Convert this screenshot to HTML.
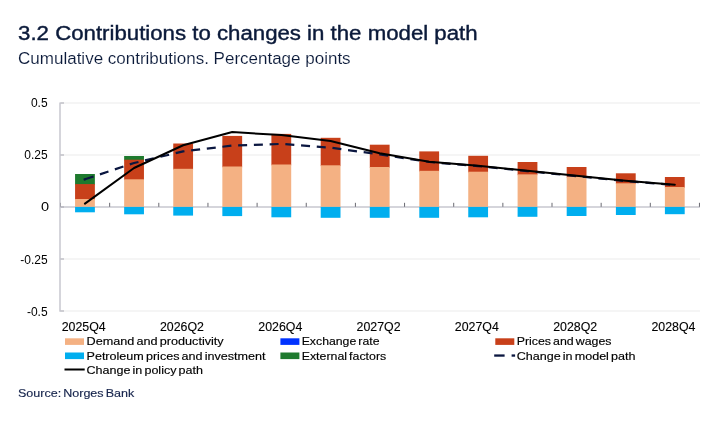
<!DOCTYPE html>
<html lang="en"><head><meta charset="utf-8"><title>3.2 Contributions to changes in the model path</title>
<style>html,body{margin:0;padding:0;background:#fff}body{width:722px;height:426px;overflow:hidden}svg{display:block;will-change:transform}text{font-family:"Liberation Sans",sans-serif}</style>
</head><body>
<svg width="722" height="426" viewBox="0 0 722 426">
<rect width="722" height="426" fill="#fff"/>
<text x="18.1" y="39.9" font-size="20" fill="#0b1a3a" stroke="#0b1a3a" stroke-width="0.4" textLength="459.5" lengthAdjust="spacingAndGlyphs">3.2 Contributions to changes in the model path</text>
<text x="18.1" y="63.8" font-size="16" fill="#0b1a3a" stroke="#fff" stroke-width="0.12" textLength="332.5" lengthAdjust="spacingAndGlyphs">Cumulative contributions. Percentage points</text>
<rect x="60.0" y="102.5" width="640.0" height="1" fill="#ececec"/>
<rect x="60.0" y="154.5" width="640.0" height="1" fill="#ececec"/>
<rect x="60.0" y="258.5" width="640.0" height="1" fill="#ececec"/>
<rect x="60.0" y="310.5" width="640.0" height="1" fill="#ececec"/>
<rect x="60.0" y="206.25" width="640.0" height="1.5" fill="#c8c8d0"/>
<rect x="75.07" y="174" width="19.8" height="10.90" fill="#1e7a2e"/>
<rect x="75.07" y="184.1" width="19.8" height="15.70" fill="#c8401a"/>
<rect x="75.07" y="199" width="19.8" height="7.90" fill="#f4b183"/>
<rect x="75.07" y="206.9" width="19.8" height="5.40" fill="#00aeef"/>
<rect x="124.15" y="156" width="19.8" height="4.50" fill="#1e7a2e"/>
<rect x="124.15" y="159.7" width="19.8" height="20.40" fill="#c8401a"/>
<rect x="124.15" y="179.3" width="19.8" height="27.60" fill="#f4b183"/>
<rect x="124.15" y="206.9" width="19.8" height="7.40" fill="#00aeef"/>
<rect x="173.25" y="143.5" width="19.8" height="26.10" fill="#c8401a"/>
<rect x="173.25" y="168.8" width="19.8" height="38.10" fill="#f4b183"/>
<rect x="173.25" y="206.9" width="19.8" height="8.70" fill="#00aeef"/>
<rect x="222.35" y="135.9" width="19.8" height="31.40" fill="#c8401a"/>
<rect x="222.35" y="166.5" width="19.8" height="40.40" fill="#f4b183"/>
<rect x="222.35" y="206.9" width="19.8" height="9.20" fill="#00aeef"/>
<rect x="271.40" y="133.9" width="19.8" height="31.40" fill="#c8401a"/>
<rect x="271.40" y="164.5" width="19.8" height="42.40" fill="#f4b183"/>
<rect x="271.40" y="206.9" width="19.8" height="10.40" fill="#00aeef"/>
<rect x="320.70" y="137.8" width="19.8" height="28.30" fill="#c8401a"/>
<rect x="320.70" y="165.3" width="19.8" height="41.60" fill="#f4b183"/>
<rect x="320.70" y="206.9" width="19.8" height="10.90" fill="#00aeef"/>
<rect x="369.80" y="144.7" width="19.8" height="23.10" fill="#c8401a"/>
<rect x="369.80" y="167" width="19.8" height="39.90" fill="#f4b183"/>
<rect x="369.80" y="206.9" width="19.8" height="10.90" fill="#00aeef"/>
<rect x="419.30" y="151.4" width="19.8" height="20.20" fill="#c8401a"/>
<rect x="419.30" y="170.8" width="19.8" height="36.10" fill="#f4b183"/>
<rect x="419.30" y="206.9" width="19.8" height="10.90" fill="#00aeef"/>
<rect x="468.25" y="155.8" width="19.8" height="16.70" fill="#c8401a"/>
<rect x="468.25" y="171.7" width="19.8" height="35.20" fill="#f4b183"/>
<rect x="468.25" y="206.9" width="19.8" height="10.40" fill="#00aeef"/>
<rect x="517.60" y="162" width="19.8" height="13.15" fill="#c8401a"/>
<rect x="517.60" y="174.35" width="19.8" height="32.55" fill="#f4b183"/>
<rect x="517.60" y="206.9" width="19.8" height="9.90" fill="#00aeef"/>
<rect x="566.70" y="167" width="19.8" height="10.50" fill="#c8401a"/>
<rect x="566.70" y="176.7" width="19.8" height="30.20" fill="#f4b183"/>
<rect x="566.70" y="206.9" width="19.8" height="9.10" fill="#00aeef"/>
<rect x="615.90" y="173.3" width="19.8" height="10.80" fill="#c8401a"/>
<rect x="615.90" y="183.3" width="19.8" height="23.60" fill="#f4b183"/>
<rect x="615.90" y="206.9" width="19.8" height="8.10" fill="#00aeef"/>
<rect x="664.90" y="177" width="19.8" height="10.80" fill="#c8401a"/>
<rect x="664.90" y="187" width="19.8" height="19.90" fill="#f4b183"/>
<rect x="664.90" y="206.9" width="19.8" height="7.30" fill="#00aeef"/>
<rect x="59.2" y="102.5" width="1.6" height="209.2" fill="#cbcbd3"/>
<rect x="60.5" y="102.5" width="3.5" height="1" fill="#a8a8b2"/>
<rect x="60.5" y="154.5" width="3.5" height="1" fill="#a8a8b2"/>
<rect x="60.5" y="206.5" width="3.5" height="1" fill="#a8a8b2"/>
<rect x="60.5" y="258.5" width="3.5" height="1" fill="#a8a8b2"/>
<rect x="60.5" y="310.5" width="3.5" height="1" fill="#a8a8b2"/>
<rect x="60.00" y="202.8" width="1" height="4" fill="#a4a4ac"/>
<rect x="109.15" y="202.8" width="1" height="4" fill="#6a6a72"/>
<rect x="158.30" y="202.8" width="1" height="4" fill="#6a6a72"/>
<rect x="207.45" y="202.8" width="1" height="4" fill="#6a6a72"/>
<rect x="256.60" y="202.8" width="1" height="4" fill="#6a6a72"/>
<rect x="305.75" y="202.8" width="1" height="4" fill="#6a6a72"/>
<rect x="354.90" y="202.8" width="1" height="4" fill="#6a6a72"/>
<rect x="404.05" y="202.8" width="1" height="4" fill="#6a6a72"/>
<rect x="453.20" y="202.8" width="1" height="4" fill="#6a6a72"/>
<rect x="502.35" y="202.8" width="1" height="4" fill="#6a6a72"/>
<rect x="551.50" y="202.8" width="1" height="4" fill="#6a6a72"/>
<rect x="600.65" y="202.8" width="1" height="4" fill="#6a6a72"/>
<rect x="649.80" y="202.8" width="1" height="4" fill="#6a6a72"/>
<rect x="698.95" y="202.8" width="1" height="4" fill="#6a6a72"/>
<polyline points="84.97,179.3 134.05,163 183.15,151.4 232.25,145.6 281.30,143.9 330.60,147.7 379.70,154.4 429.20,162.0 478.15,166.1 527.50,171.1 576.60,176.1 625.80,181.1 674.80,184.9" fill="none" stroke="#0b1740" stroke-width="2.2" stroke-dasharray="9 6.75" stroke-linejoin="round"/>
<line x1="83.64" y1="179.74" x2="85.44" y2="179.14" stroke="#0b1740" stroke-width="2.2"/>
<polyline points="84.97,203.7 134.05,168 183.15,145.2 232.25,132.1 281.30,135.1 330.60,141 379.70,153.3 429.20,161.7 478.15,165.8 527.50,170.8 576.60,175.8 625.80,180.8 674.80,184.7" fill="none" stroke="#000" stroke-width="2.05" stroke-linejoin="round" stroke-linecap="round"/>
<text x="47.6" y="107.0" font-size="12" text-anchor="end" fill="#000">0.5</text>
<text x="47.6" y="159.0" font-size="12" text-anchor="end" fill="#000">0.25</text>
<text x="47.6" y="264.0" font-size="12" text-anchor="end" fill="#000">-0.25</text>
<text x="47.6" y="316.0" font-size="12" text-anchor="end" fill="#000">-0.5</text>
<text x="40.9" y="210.9" font-size="12" fill="#000" textLength="8.1" lengthAdjust="spacingAndGlyphs">0</text>
<text x="83.67" y="331.1" font-size="12" text-anchor="middle" fill="#000" stroke="#000" stroke-width="0.12" textLength="44" lengthAdjust="spacingAndGlyphs">2025Q4</text>
<text x="181.97" y="331.1" font-size="12" text-anchor="middle" fill="#000" stroke="#000" stroke-width="0.12" textLength="44" lengthAdjust="spacingAndGlyphs">2026Q2</text>
<text x="280.27" y="331.1" font-size="12" text-anchor="middle" fill="#000" stroke="#000" stroke-width="0.12" textLength="44" lengthAdjust="spacingAndGlyphs">2026Q4</text>
<text x="378.57" y="331.1" font-size="12" text-anchor="middle" fill="#000" stroke="#000" stroke-width="0.12" textLength="44" lengthAdjust="spacingAndGlyphs">2027Q2</text>
<text x="476.87" y="331.1" font-size="12" text-anchor="middle" fill="#000" stroke="#000" stroke-width="0.12" textLength="44" lengthAdjust="spacingAndGlyphs">2027Q4</text>
<text x="575.17" y="331.1" font-size="12" text-anchor="middle" fill="#000" stroke="#000" stroke-width="0.12" textLength="44" lengthAdjust="spacingAndGlyphs">2028Q2</text>
<text x="673.48" y="331.1" font-size="12" text-anchor="middle" fill="#000" stroke="#000" stroke-width="0.12" textLength="44" lengthAdjust="spacingAndGlyphs">2028Q4</text>
<rect x="65" y="338.3" width="19" height="6.6" fill="#f4b183"/>
<text x="86.5" y="344.9" font-size="11" fill="#000" stroke="#000" stroke-width="0.15" word-spacing="-1.2" textLength="137.2" lengthAdjust="spacingAndGlyphs">Demand and productivity</text>
<rect x="280.4" y="338.3" width="19" height="6.6" fill="#0032ff"/>
<text x="301.7" y="344.9" font-size="11" fill="#000" stroke="#000" stroke-width="0.15" word-spacing="-1.2" textLength="77.8" lengthAdjust="spacingAndGlyphs">Exchange rate</text>
<rect x="495.3" y="338.3" width="19" height="6.6" fill="#c8401a"/>
<text x="516.7" y="344.9" font-size="11" fill="#000" stroke="#000" stroke-width="0.15" word-spacing="-1.2" textLength="94.8" lengthAdjust="spacingAndGlyphs">Prices and wages</text>
<rect x="65" y="352.5" width="19" height="6.6" fill="#00aeef"/>
<text x="86.5" y="359.6" font-size="11" fill="#000" stroke="#000" stroke-width="0.15" word-spacing="-1.2" textLength="179" lengthAdjust="spacingAndGlyphs">Petroleum prices and investment</text>
<rect x="280.4" y="352.5" width="19" height="6.6" fill="#1e7a2e"/>
<text x="301.7" y="359.6" font-size="11" fill="#000" stroke="#000" stroke-width="0.15" word-spacing="-1.2" textLength="84.5" lengthAdjust="spacingAndGlyphs">External factors</text>
<rect x="494.2" y="354.4" width="10.4" height="2.3" fill="#0b1740"/><rect x="511.6" y="354.4" width="3.5" height="2.3" fill="#0b1740"/>
<text x="516.7" y="359.6" font-size="11" fill="#000" stroke="#000" stroke-width="0.15" word-spacing="-1.2" textLength="118.8" lengthAdjust="spacingAndGlyphs">Change in model path</text>
<rect x="64.5" y="368.5" width="20.2" height="2" fill="#000"/>
<text x="86.5" y="374.2" font-size="11" fill="#000" stroke="#000" stroke-width="0.15" word-spacing="-1.2" textLength="116.5" lengthAdjust="spacingAndGlyphs">Change in policy path</text>
<text x="18" y="397.4" font-size="11" fill="#16244c" stroke="#16244c" stroke-width="0.15" word-spacing="-1.2" textLength="116.2" lengthAdjust="spacingAndGlyphs">Source: Norges Bank</text>
</svg></body></html>
